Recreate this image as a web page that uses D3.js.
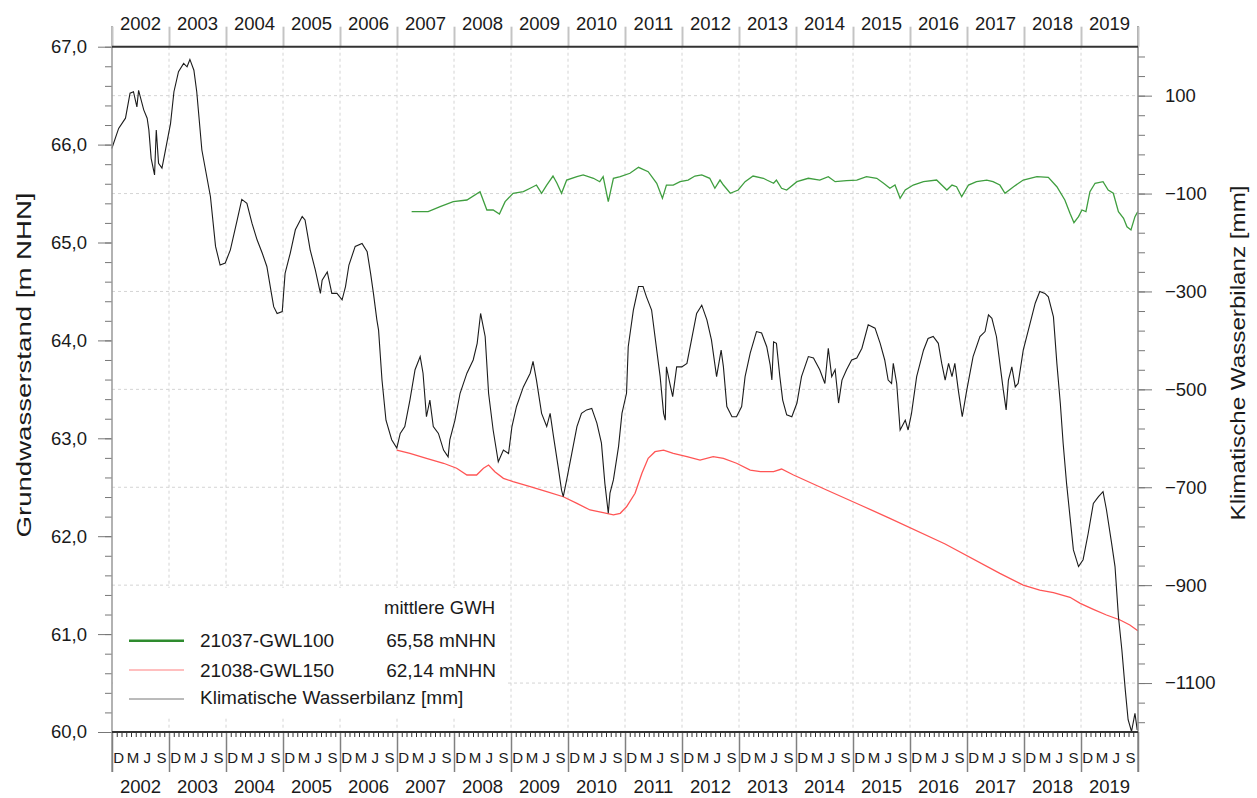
<!DOCTYPE html>
<html><head><meta charset="utf-8">
<script src="https://cdn.jsdelivr.net/npm/d3@7"></script>
<style>
body{margin:0;background:#fff;}
text{font-family:"Liberation Sans",Arial,sans-serif;fill:#1a1a1a;}
</style>
</head><body>
<svg id="c" width="1257" height="798"></svg>
<script>
// ---------- data ----------
const years = d3.range(2002, 2020);             // hydrological years (Nov–Oct)
const monthLabels = [{m:1,t:"D"},{m:4,t:"M"},{m:7,t:"J"},{m:10,t:"S"}];
const leftTicks = [60,61,62,63,64,65,66,67];
const rightTicks = [100,-100,-300,-500,-700,-900,-1100];
const legendHeader = "mittlere GWH";
const seriesNames = ["21037-GWL100","21038-GWL150","Klimatische Wasserbilanz [mm]"];
const seriesMeans = ["65,58 mNHN","62,14 mNHN",""];

// Klimatische Wasserbilanz [mm] (right axis), [decimal year, mm]
const kwb = [[2001.83,-8],[2001.95,33],[2002.07,54],[2002.15,105],[2002.21,108],[2002.27,77],[2002.30,111],[2002.39,71],[2002.45,54],[2002.48,30],[2002.52,-28],[2002.58,-62],[2002.61,30],[2002.65,-38],[2002.71,-48],[2002.76,-18],[2002.86,43],[2002.92,108],[2003.00,149],[2003.09,166],[2003.15,159],[2003.20,174],[2003.27,152],[2003.32,108],[2003.41,-11],[2003.56,-106],[2003.65,-208],[2003.73,-246],[2003.82,-242],[2003.91,-215],[2004.03,-154],[2004.11,-112],[2004.20,-120],[2004.29,-161],[2004.38,-195],[2004.47,-222],[2004.55,-249],[2004.63,-304],[2004.67,-331],[2004.73,-345],[2004.82,-341],[2004.87,-263],[2004.96,-222],[2005.05,-174],[2005.17,-147],[2005.22,-154],[2005.31,-215],[2005.40,-256],[2005.49,-304],[2005.52,-277],[2005.61,-260],[2005.69,-304],[2005.78,-304],[2005.87,-317],[2005.93,-290],[2005.99,-246],[2006.10,-208],[2006.22,-202],[2006.31,-219],[2006.37,-263],[2006.42,-304],[2006.48,-358],[2006.51,-379],[2006.57,-481],[2006.64,-563],[2006.74,-603],[2006.83,-620],[2006.89,-590],[2006.97,-576],[2007.06,-522],[2007.15,-460],[2007.24,-433],[2007.29,-467],[2007.35,-556],[2007.41,-522],[2007.47,-576],[2007.56,-590],[2007.65,-624],[2007.73,-638],[2007.76,-603],[2007.85,-563],[2007.94,-508],[2008.06,-467],[2008.17,-440],[2008.24,-406],[2008.30,-345],[2008.38,-392],[2008.44,-508],[2008.52,-583],[2008.61,-648],[2008.70,-624],[2008.79,-631],[2008.85,-576],[2008.93,-535],[2009.05,-495],[2009.17,-467],[2009.22,-443],[2009.28,-481],[2009.37,-549],[2009.46,-576],[2009.52,-549],[2009.58,-597],[2009.66,-658],[2009.72,-706],[2009.75,-719],[2009.81,-685],[2009.90,-631],[2009.99,-576],[2010.07,-549],[2010.16,-542],[2010.25,-539],[2010.34,-569],[2010.42,-610],[2010.48,-692],[2010.54,-753],[2010.57,-712],[2010.63,-685],[2010.72,-617],[2010.78,-549],[2010.86,-508],[2010.89,-413],[2010.98,-338],[2011.07,-290],[2011.15,-290],[2011.21,-311],[2011.30,-338],[2011.39,-420],[2011.45,-474],[2011.51,-549],[2011.54,-563],[2011.56,-454],[2011.62,-488],[2011.67,-515],[2011.74,-454],[2011.83,-454],[2011.92,-447],[2012.00,-399],[2012.09,-345],[2012.18,-328],[2012.27,-358],[2012.35,-399],[2012.44,-474],[2012.52,-420],[2012.56,-454],[2012.62,-535],[2012.71,-556],[2012.79,-556],[2012.88,-535],[2012.94,-474],[2013.03,-426],[2013.14,-382],[2013.23,-385],[2013.32,-413],[2013.38,-450],[2013.41,-481],[2013.44,-403],[2013.49,-406],[2013.55,-474],[2013.60,-522],[2013.67,-552],[2013.76,-556],[2013.85,-528],[2013.93,-474],[2014.05,-433],[2014.14,-436],[2014.25,-460],[2014.34,-488],[2014.40,-416],[2014.46,-474],[2014.52,-460],[2014.58,-528],[2014.64,-481],[2014.72,-460],[2014.81,-440],[2014.90,-436],[2014.99,-416],[2015.10,-368],[2015.22,-375],[2015.31,-406],[2015.39,-440],[2015.45,-481],[2015.51,-488],[2015.54,-447],[2015.60,-488],[2015.66,-583],[2015.75,-563],[2015.80,-583],[2015.86,-549],[2015.95,-474],[2016.07,-420],[2016.15,-396],[2016.24,-392],[2016.33,-406],[2016.39,-447],[2016.45,-481],[2016.51,-447],[2016.57,-474],[2016.62,-447],[2016.68,-501],[2016.75,-556],[2016.83,-501],[2016.94,-433],[2017.06,-392],[2017.15,-382],[2017.21,-348],[2017.27,-355],[2017.35,-392],[2017.41,-447],[2017.47,-501],[2017.52,-542],[2017.56,-481],[2017.62,-454],[2017.68,-495],[2017.73,-488],[2017.82,-420],[2017.94,-365],[2018.03,-324],[2018.11,-300],[2018.20,-304],[2018.26,-311],[2018.35,-352],[2018.41,-447],[2018.47,-528],[2018.52,-610],[2018.58,-692],[2018.64,-760],[2018.70,-828],[2018.79,-862],[2018.87,-848],[2018.96,-794],[2019.05,-733],[2019.14,-719],[2019.22,-709],[2019.28,-746],[2019.37,-814],[2019.43,-862],[2019.49,-964],[2019.55,-1032],[2019.61,-1114],[2019.66,-1175],[2019.72,-1199],[2019.78,-1162],[2019.82,-1196]];

// 21037-GWL100 [m NHN] (left axis)
const gwl100 = [[2007.09,65.315],[2007.38,65.315],[2007.59,65.366],[2007.82,65.417],[2008.06,65.434],[2008.29,65.519],[2008.41,65.332],[2008.52,65.332],[2008.63,65.291],[2008.73,65.417],[2008.87,65.503],[2009.05,65.519],[2009.17,65.554],[2009.28,65.587],[2009.37,65.503],[2009.46,65.587],[2009.57,65.679],[2009.64,65.605],[2009.72,65.503],[2009.81,65.638],[2009.99,65.672],[2010.10,65.69],[2010.28,65.656],[2010.39,65.621],[2010.45,65.672],[2010.54,65.417],[2010.63,65.656],[2010.75,65.672],[2010.92,65.707],[2011.07,65.768],[2011.24,65.723],[2011.39,65.605],[2011.49,65.451],[2011.56,65.587],[2011.68,65.587],[2011.80,65.621],[2011.94,65.638],[2012.06,65.679],[2012.18,65.69],[2012.32,65.656],[2012.41,65.554],[2012.50,65.638],[2012.56,65.587],[2012.68,65.503],[2012.82,65.536],[2012.94,65.621],[2013.08,65.679],[2013.26,65.656],[2013.32,65.638],[2013.44,65.605],[2013.49,65.638],[2013.58,65.554],[2013.67,65.536],[2013.85,65.621],[2014.05,65.656],[2014.25,65.638],[2014.40,65.672],[2014.52,65.621],[2014.72,65.631],[2014.90,65.638],[2015.07,65.672],[2015.25,65.656],[2015.37,65.605],[2015.48,65.554],[2015.57,65.587],[2015.66,65.451],[2015.75,65.536],[2015.89,65.587],[2016.07,65.621],[2016.30,65.638],[2016.48,65.536],[2016.57,65.587],[2016.65,65.570],[2016.74,65.468],[2016.86,65.587],[2017.00,65.621],[2017.18,65.638],[2017.29,65.621],[2017.41,65.587],[2017.50,65.503],[2017.65,65.570],[2017.82,65.638],[2018.06,65.672],[2018.26,65.665],[2018.41,65.570],[2018.55,65.434],[2018.64,65.298],[2018.71,65.202],[2018.79,65.264],[2018.85,65.332],[2018.92,65.315],[2018.99,65.519],[2019.08,65.605],[2019.22,65.621],[2019.31,65.536],[2019.40,65.503],[2019.49,65.315],[2019.58,65.247],[2019.64,65.161],[2019.71,65.128],[2019.78,65.264],[2019.83,65.315]];

// 21038-GWL150 [m NHN] (left axis)
const gwl150 = [[2006.83,62.88],[2007.06,62.847],[2007.35,62.796],[2007.65,62.745],[2007.88,62.694],[2008.06,62.625],[2008.23,62.625],[2008.35,62.694],[2008.44,62.727],[2008.55,62.659],[2008.70,62.591],[2008.87,62.557],[2009.17,62.506],[2009.46,62.455],[2009.75,62.403],[2009.99,62.336],[2010.22,62.268],[2010.45,62.240],[2010.63,62.217],[2010.75,62.234],[2010.86,62.301],[2011.01,62.438],[2011.13,62.642],[2011.24,62.796],[2011.36,62.863],[2011.51,62.880],[2011.68,62.847],[2011.92,62.812],[2012.15,62.778],[2012.38,62.812],[2012.56,62.796],[2012.79,62.745],[2013.03,62.676],[2013.21,62.659],[2013.44,62.659],[2013.58,62.686],[2013.79,62.625],[2014.37,62.472],[2014.96,62.319],[2015.48,62.183],[2016.45,61.92],[2017.41,61.62],[2017.82,61.50],[2018.11,61.45],[2018.35,61.423],[2018.64,61.376],[2018.82,61.314],[2019.05,61.253],[2019.28,61.195],[2019.52,61.144],[2019.69,61.093],[2019.83,61.035]];

// ---------- layout ----------
const L = 112, R = 1138, T = 46.7, B = 732;
const x0 = 2001 + 10/12, x1 = 2019 + 10/12;
const svg = d3.select("#c");
const x  = d3.scaleLinear().domain([x0, x1]).range([L, R]);
const yL = d3.scaleLinear().domain([60, 67]).range([B, T]);
const yR = d3.scaleLinear().domain([-1200, 200]).range([B, T]);
const comma = d => d3.format(".1f")(d).replace(".", ",");
const bounds = d3.range(0, years.length + 1).map(i => x0 + i);
const FONT = '"Liberation Sans",Arial,sans-serif';

// grid
const grid = svg.append("g").attr("stroke", "#d4d4d4").attr("stroke-dasharray", "3,3").attr("stroke-width", 1);
grid.selectAll("line.h").data(rightTicks).join("line").attr("class","h")
  .attr("x1", L).attr("x2", R).attr("y1", d => yR(d)).attr("y2", d => yR(d));
grid.selectAll("line.v").data(bounds.slice(1, -1)).join("line").attr("class","v")
  .attr("y1", T).attr("y2", B).attr("x1", d => x(d)).attr("x2", d => x(d));

// series
const lineL = d3.line().x(d => x(d[0])).y(d => yL(d[1]));
const lineR = d3.line().x(d => x(d[0])).y(d => yR(d[1]));
svg.append("path").datum(gwl150).attr("d", lineL).attr("fill","none").attr("stroke","#ff5555").attr("stroke-width",1.3);
svg.append("path").datum(gwl100).attr("d", lineL).attr("fill","none").attr("stroke","#3f9e3f").attr("stroke-width",1.3);
svg.append("path").datum(kwb).attr("d", lineR).attr("fill","none").attr("stroke","#1c1c1c").attr("stroke-width",1.1);

// left axis
const gl = svg.append("g").attr("transform", `translate(${L},0)`)
  .call(d3.axisLeft(yL).tickValues(d3.range(60, 67.01, 0.2)).tickSize(7).tickFormat(""));
gl.select(".domain").remove();
const glm = svg.append("g").attr("transform", `translate(${L},0)`)
  .call(d3.axisLeft(yL).tickValues(leftTicks).tickSize(14).tickPadding(11).tickFormat(comma));
glm.select(".domain").remove();
glm.selectAll("text").attr("font-size", 18.5).attr("font-family", FONT).attr("fill", "#1a1a1a");

// right axis
const gr = svg.append("g").attr("transform", `translate(${R},0)`)
  .call(d3.axisRight(yR).tickValues(d3.range(-1180, 200, 40)).tickSize(7).tickFormat(""));
gr.select(".domain").remove();
const grm = svg.append("g").attr("transform", `translate(${R},0)`)
  .call(d3.axisRight(yR).tickValues(rightTicks).tickSize(14).tickPadding(13).tickFormat(d3.format("d")));
grm.select(".domain").remove();
grm.selectAll("text").attr("font-size", 18.5).attr("font-family", FONT).attr("fill", "#1a1a1a");
svg.selectAll(".tick line").attr("stroke", "#777");

// vertical frame lines
svg.append("line").attr("x1", L).attr("x2", L).attr("y1", 26).attr("y2", 772).attr("stroke", "#999").attr("stroke-width", 1.5);
svg.append("line").attr("x1", R).attr("x2", R).attr("y1", 26).attr("y2", 772).attr("stroke", "#888").attr("stroke-width", 1.5);

// top axis
const gt = svg.append("g").attr("transform", `translate(0,${T})`)
  .call(d3.axisTop(x).tickValues(bounds).tickSize(20).tickFormat(""));
gt.select(".domain").remove();
gt.selectAll(".tick line").attr("stroke", "#c4c4c4").attr("stroke-width", 2);
svg.append("line").attr("x1", L).attr("x2", R).attr("y1", T).attr("y2", T).attr("stroke", "#333").attr("stroke-width", 2);
svg.append("g").selectAll("text").data(years).join("text")
  .attr("x", (d, i) => x(x0 + i + 0.5)).attr("y", 29.5).attr("text-anchor", "middle")
  .attr("font-size", 18.5).text(d => d);

// bottom axis
const gbm = svg.append("g").attr("transform", `translate(0,${B})`)
  .call(d3.axisBottom(x).tickValues(d3.range(0, years.length * 12).map(k => x0 + k / 12)).tickSize(5).tickFormat(""));
gbm.select(".domain").remove();
gbm.selectAll(".tick line").attr("stroke", "#333");
const gby = svg.append("g").attr("transform", `translate(0,${B})`)
  .call(d3.axisBottom(x).tickValues(bounds).tickSize(40).tickFormat(""));
gby.select(".domain").remove();
gby.selectAll(".tick line").attr("stroke", "#808080").attr("stroke-width", 1.5);
svg.append("line").attr("x1", L).attr("x2", R).attr("y1", B).attr("y2", B).attr("stroke", "#333").attr("stroke-width", 2);
const monthData = [];
years.forEach((yv, i) => monthLabels.forEach(m => monthData.push({x: x0 + i + (m.m + 0.4) / 12, t: m.t})));
svg.append("g").selectAll("text").data(monthData).join("text")
  .attr("x", d => x(d.x)).attr("y", 763.3).attr("text-anchor", "middle").attr("font-size", 15).text(d => d.t);
svg.append("g").selectAll("text").data(years).join("text")
  .attr("x", (d, i) => x(x0 + i + 0.5)).attr("y", 793).attr("text-anchor", "middle")
  .attr("font-size", 18.5).text(d => d);

// axis titles
svg.append("text").attr("transform", "translate(31,365) rotate(-90)").attr("text-anchor", "middle")
  .attr("font-size", 21).attr("textLength", 345).attr("lengthAdjust", "spacingAndGlyphs")
  .text("Grundwasserstand [m NHN]");
svg.append("text").attr("transform", "translate(1245,353) rotate(-90)").attr("text-anchor", "middle")
  .attr("font-size", 21).attr("textLength", 335).attr("lengthAdjust", "spacingAndGlyphs")
  .text("Klimatische Wasserbilanz [mm]");

// legend
const lg = svg.append("g");
lg.append("rect").attr("x", 113).attr("y", 588).attr("width", 395).attr("height", 128).attr("fill", "#fff");
lg.append("text").attr("x", 495).attr("y", 614).attr("text-anchor", "end").attr("font-size", 18.5).text(legendHeader);
const legColors = ["#2e8b2e", "#ffaaaa", "#777"];
const legWidths = [2.5, 1.6, 1];
const legY = [640.7, 670, 699];
const legBase = [646.7, 676.7, 704];
seriesNames.forEach((n, i) => {
  lg.append("line").attr("x1", 129).attr("x2", 184).attr("y1", legY[i]).attr("y2", legY[i])
    .attr("stroke", legColors[i]).attr("stroke-width", legWidths[i]);
  lg.append("text").attr("x", 200).attr("y", legBase[i]).attr("font-size", 19).text(n);
  if (seriesMeans[i]) lg.append("text").attr("x", 496).attr("y", legBase[i]).attr("text-anchor", "end").attr("font-size", 19).text(seriesMeans[i]);
});
</script>
</body></html>
